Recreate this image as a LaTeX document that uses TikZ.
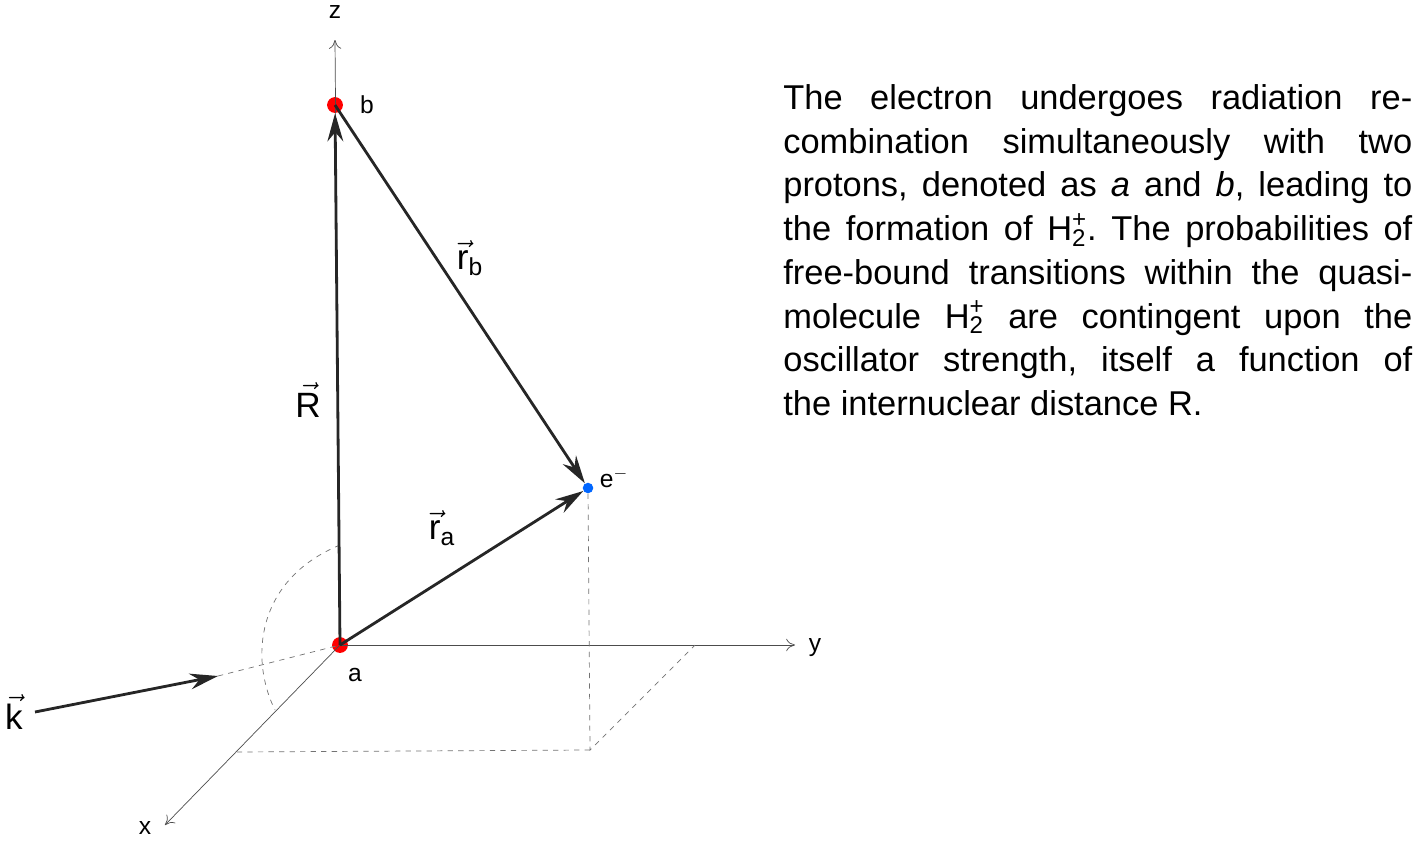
\documentclass[tikz,border=0pt]{standalone}
\usepackage{fontspec}
\setmainfont{Liberation Sans}
\usetikzlibrary{arrows.meta,positioning}
\newcommand{\Htwo}{H\rlap{\textsubscript{2}}\textsuperscript{+}}
\tikzset{>={Stealth[length=16pt,width=9pt]},
  axis/.style={draw=black!70,thin,-{To[length=5pt,width=7pt]}},
  vec/.style={draw=black!85,line width=1.6pt,->},
  guide/.style={draw=black!55,dashed,thin},
  charge/.style={circle,inner sep=0pt,minimum size=#1},
  lbl/.style={font=\fontsize{14}{16}\selectfont},
  big/.style={font=\fontsize{20}{22}\selectfont}}
\begin{document}
\frenchspacing
\begin{tikzpicture}[x=0.02cm,y=-0.02cm]
  \useasboundingbox (0,0) rectangle (1417,842);
  % points
  \node[charge=9pt,fill=red] (a) at (340,645) {};
  \node[charge=9pt,fill=red] (b) at (335,105) {};
  \node[charge=6pt,fill=blue!60!cyan] (e) at (588,488) {};
  \coordinate (ztip) at (335,40);
  \coordinate (ytip) at (795,645);
  \coordinate (xtip) at (165,825);
  \coordinate (kstart) at (35,712);
  \coordinate (khead) at (218,676);
  \coordinate (ex) at (235,752);
  \coordinate (ey) at (695,645);
  \coordinate (exy) at (590,750);
  \coordinate (arcz) at (340,545);
  \coordinate (arcx) at (275,710);
  % axes
  \draw[axis] (a.center) -- (ztip);
  \draw[axis] (a.center) -- (ytip);
  \draw[axis] (a.center) -- (xtip);
  \node[lbl] at (335,12) {z};
  \node[lbl] at (815,648) {y};
  \node[lbl] at (145,828) {x};
  % guides
  \draw[guide] (e) -- (exy) -- (ey);
  \draw[guide] (exy) -- (ex);
  \draw[guide] (khead) -- (a.center);
  \draw[guide] (arcz) .. controls (255,580) and (250,660) .. (arcx);
  % vectors
  \draw[vec] (a.center) -- (b);
  \draw[vec] (b.center) -- (e);
  \draw[vec] (a.center) -- (e);
  \draw[vec] (kstart) -- (khead);
  % labels
  \node[lbl,right=6pt of b] {b};
  \node[lbl] at (355,675) {a};
  \node[lbl] at (614,478) {e$^{\mathbf{-}}$};
  \node[big] at (308,400) {$\vec{\mathrm{R}}$};
  \node[big] at (470,258) {$\vec{\mathrm{r}}_{\mathrm{b}}$};
  \node[big] at (442,528) {$\vec{\mathrm{r}}_{\mathrm{a}}$};
  \node[big] at (14,712) {$\vec{\mathrm{k}}$};
  % caption
  \node[anchor=north west,text width=629*0.02cm,align=justify,inner sep=0pt,
    font=\fontsize{19.6}{24.9}\selectfont] (txt) at (783,84)
  {The electron undergoes radiation re-\linebreak
   combination simultaneously with two\linebreak
   protons, denoted as \textit{a} and \textit{b}, leading to\linebreak
   the formation of \Htwo. The probabilities of\linebreak
   free-bound transitions within the quasi-\linebreak
   molecule \Htwo{} are contingent upon the\linebreak
   oscillator strength, itself a function of\linebreak
   the internuclear distance R.};
\end{tikzpicture}
\end{document}
